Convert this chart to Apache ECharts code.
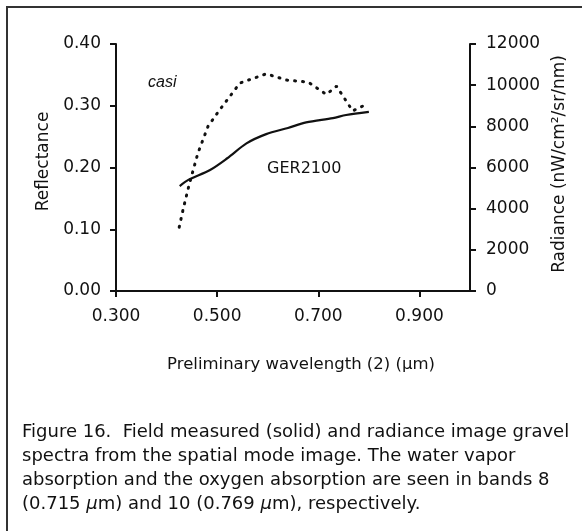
<!DOCTYPE html>
<html>
<head>
<meta charset="utf-8">
<script src="https://cdn.jsdelivr.net/npm/echarts@6/dist/echarts.min.js"></script>
<style>
  html, body { margin: 0; padding: 0; background: #fff; }
  #main { width: 582px; height: 531px; }
</style>
</head>
<body>
<div id="main"></div>
<script>
// GER2100 field spectrum (reflectance, left axis)
var gerWavelength = [0.426, 0.443, 0.486, 0.520, 0.558, 0.597, 0.640, 0.676, 0.729, 0.755, 0.800];
var gerReflectance = [0.170, 0.180, 0.196, 0.215, 0.239, 0.254, 0.264, 0.273, 0.280, 0.285, 0.290];

// casi image spectrum (radiance, right axis)
var casiWavelength = [0.425, 0.433, 0.445, 0.462, 0.482, 0.502, 0.525, 0.545, 0.597, 0.637, 0.680, 0.716, 0.736, 0.768, 0.798];
var casiRadiance = [3100, 4000, 5200, 6700, 8000, 8700, 9450, 10100, 10550, 10250, 10150, 9550, 9950, 8750, 9100];

var xTicks = { min: 0.3, max: 1.0, step: 0.2 };
var leftTicks = { min: 0, max: 0.4, step: 0.1 };
var rightTicks = { min: 0, max: 12000, step: 2000 };

var font = '"DejaVu Sans", Arial, sans-serif';
var narrow = '"Liberation Sans Narrow", "Liberation Sans", Arial, sans-serif';

function pairs(xs, ys) {
    return xs.map(function (x, i) { return [x, ys[i]]; });
}

var myChart = echarts.init(document.getElementById('main'));
var option = {
    animation: false,
    backgroundColor: '#fff',
    grid: {
        left: 116,
        right: 112,
        top: 44,
        height: 247
    },
    xAxis: {
        type: 'value',
        min: xTicks.min,
        max: xTicks.max,
        interval: xTicks.step,
        name: 'Preliminary wavelength (2) (μm)',
        nameLocation: 'middle',
        nameGap: 65,
        nameTextStyle: { fontFamily: font, fontSize: 16.5, color: '#111', padding: [0, 0, 0, 16] },
        splitLine: { show: false },
        axisLine: { lineStyle: { color: '#111', width: 2 } },
        axisTick: { length: 6, lineStyle: { color: '#111', width: 2 } },
        axisLabel: {
            margin: 17,
            fontFamily: font, fontSize: 17, color: '#111',
            showMaxLabel: false,
            formatter: function (v) { return v.toFixed(3); }
        }
    },
    yAxis: [{
        type: 'value',
        min: leftTicks.min,
        max: leftTicks.max,
        interval: leftTicks.step,
        name: 'Reflectance',
        nameLocation: 'middle',
        nameGap: 62,
        nameTextStyle: { fontFamily: font, fontSize: 17, color: '#111', padding: [0, 0, 0, 12] },
        splitLine: { show: false },
        axisLine: { show: true, lineStyle: { color: '#111', width: 2 } },
        axisTick: { show: true, length: 6, lineStyle: { color: '#111', width: 2 } },
        axisLabel: {
            margin: 15,
            fontFamily: font, fontSize: 17, color: '#111',
            formatter: function (v) { return v.toFixed(2); }
        }
    }, {
        type: 'value',
        position: 'right',
        min: rightTicks.min,
        max: rightTicks.max,
        interval: rightTicks.step,
        name: 'Radiance (nW/cm²/sr/nm)',
        nameLocation: 'middle',
        nameGap: 67,
        nameRotate: 90,
        nameTextStyle: { fontFamily: font, fontSize: 17, color: '#111', padding: [0, 0, 0, 7] },
        splitLine: { show: false },
        axisLine: { show: true, lineStyle: { color: '#111', width: 2 } },
        axisTick: { show: true, length: 6, lineStyle: { color: '#111', width: 2 } },
        axisLabel: {
            margin: 16,
            fontFamily: font, fontSize: 17, color: '#111',
            formatter: function (v) { return String(v); }
        }
    }],
    series: [{
        name: 'GER2100',
        type: 'line',
        yAxisIndex: 0,
        data: pairs(gerWavelength, gerReflectance),
        showSymbol: false,
        smooth: 0.3,
        lineStyle: { color: '#111', width: 2.2 }
    }, {
        name: 'casi',
        type: 'line',
        yAxisIndex: 1,
        data: pairs(casiWavelength, casiRadiance),
        showSymbol: false,
        lineStyle: { color: '#111', width: 3, type: [1, 7], cap: 'round' }
    }],
    graphic: [{
        type: 'rect',
        shape: { x: 7, y: 7, width: 620, height: 620 },
        style: { fill: null, stroke: '#333', lineWidth: 2 }
    }, {
        type: 'text',
        left: 148, top: 75,
        style: { text: 'casi', font: 'italic 16px ' + narrow, fill: '#111' }
    }, {
        type: 'text',
        left: 267, top: 161,
        style: { text: 'GER2100', font: '16px ' + font, fill: '#111' }
    }, {
        type: 'text',
        left: 22, top: 420,
        style: {
            text: 'Figure 16.  Field measured (solid) and radiance image gravel\n' +
                  'spectra from the spatial mode image. The water vapor\n' +
                  'absorption and the oxygen absorption are seen in bands 8\n' +
                  '(0.715 {i|μ}m) and 10 (0.769 {i|μ}m), respectively.',
            font: '18px ' + font,
            lineHeight: 24,
            fill: '#111',
            rich: {
                i: { font: 'italic 18px ' + font, fill: '#111', lineHeight: 24 }
            }
        }
    }]
};
myChart.setOption(option);
</script>
</body>
</html>
